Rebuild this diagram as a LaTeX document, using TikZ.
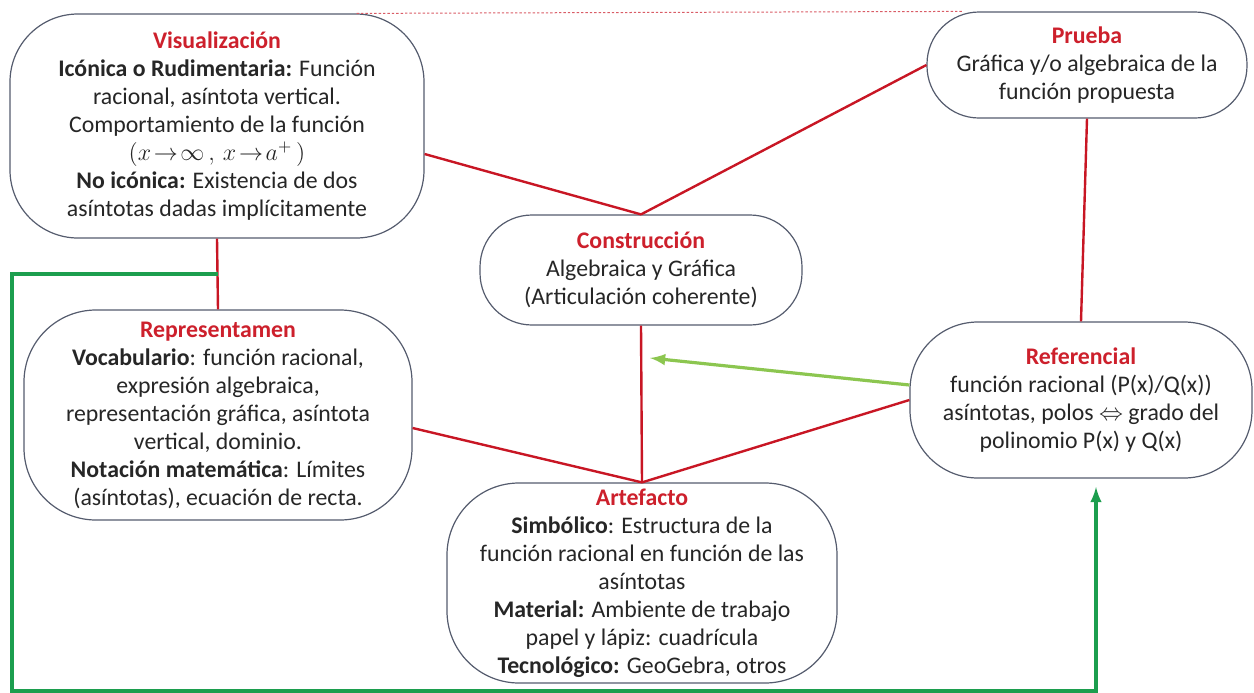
\documentclass[tikz,border=0pt]{standalone}
\usepackage{fontspec}
\setmainfont{Carlito}
\usetikzlibrary{calc}
\definecolor{ttlred}{RGB}{205,32,44}
\definecolor{linered}{RGB}{200,22,36}
\definecolor{boxgray}{RGB}{85,92,110}
\definecolor{txtgray}{RGB}{38,38,38}
\definecolor{lightgreen}{RGB}{140,198,80}
\definecolor{darkgreen}{RGB}{28,158,78}
\newcommand{\ttl}[1]{{\color{ttlred}\bfseries #1}}
\begin{document}
\begin{tikzpicture}[
x=0.5pt, y=-0.5pt,
box/.style={draw=boxgray, line width=0.6pt, fill=white, rounded corners=30pt, align=center, text=txtgray, font=\fontsize{11.9}{14}\selectfont, inner sep=1pt},
redline/.style={draw=linered, line width=1.2pt},
feedback/.style={draw=lightgreen, line width=1.6pt, -latex},
loopline/.style={draw=darkgreen, line width=1.6pt, -latex}
]
\useasboundingbox (0,0) rectangle (1254,692);
\node[box, minimum width=207pt, minimum height=112pt, rounded corners=34pt] (vis) at (217,126) {\ttl{Visualización}\\
\textbf{Icónica o Rudimentaria:} Función\\
racional, asíntota vertical.\\
Comportamiento de la función\\
$(x\!\rightarrow\!\infty\,,\,x\!\rightarrow\!a^{+}\,)$\\
\textbf{No icónica:} Existencia de dos\\
asíntotas dadas implícitamente};
\node[box, minimum width=160pt, minimum height=53pt, rounded corners=26pt] (prueba) at (1087,65) {\ttl{Prueba}\\
Gráfica y/o algebraica de la\\
función propuesta};
\node[box, minimum width=161pt, minimum height=55pt, rounded corners=26pt] (constr) at (641,270) {\ttl{Construcción}\\
Algebraica y Gráfica\\
(Articulación coherente)};
\node[box, minimum width=194pt, minimum height=105pt, rounded corners=36pt] (repr) at (218,415) {\ttl{Representamen}\\
\textbf{Vocabulario}: función racional,\\
expresión algebraica,\\
representación gráfica, asíntota\\
vertical, dominio.\\
\textbf{Notación matemática}: Límites\\
(asíntotas), ecuación de recta.};
\node[box, minimum width=171pt, minimum height=78pt, rounded corners=34pt] (ref) at (1081,400) {\ttl{Referencial}\\
función racional (P(x)/Q(x))\\
asíntotas, polos $\Leftrightarrow$ grado del\\
polinomio P(x) y Q(x)};
\node[box, minimum width=195pt, minimum height=100pt, rounded corners=36pt] (arte) at (642,583) {\ttl{Artefacto}\\
\textbf{Simbólico}: Estructura de la\\
función racional en función de las\\
asíntotas\\
\textbf{Material:} Ambiente de trabajo\\
papel y lápiz: cuadrícula\\
\textbf{Tecnológico:} GeoGebra, otros};
% junction points for the green lines
\coordinate (gl) at ($(vis.south)!0.5!(repr.north)$);
\coordinate (gb) at (12,691);
\coordinate (gr) at (1096,487);
\coordinate (ga) at (650,358);
% red links
\draw[redline, densely dotted, line width=0.5pt, draw=linered!70] ([xshift=-34pt]vis.north east) -- ([xshift=18pt]prueba.north west);
\draw[redline] ([yshift=-14pt]vis.east) -- (constr.north);
\draw[redline] (prueba.west) -- (constr.north);
\draw[redline] (prueba.south) -- (ref.north);
\draw[redline] (vis.south) -- (repr.north);
\draw[redline] (constr.south) -- (arte.north);
\draw[redline] ([yshift=-6.5pt]repr.east) -- (arte.north);
\draw[redline] (ref.west) -- (arte.north);
% green links
\draw[feedback] ([yshift=7.5pt]ref.west) -- (ga);
\draw[loopline] (gl) -| (gb) -| (gr);
\end{tikzpicture}
\end{document}
